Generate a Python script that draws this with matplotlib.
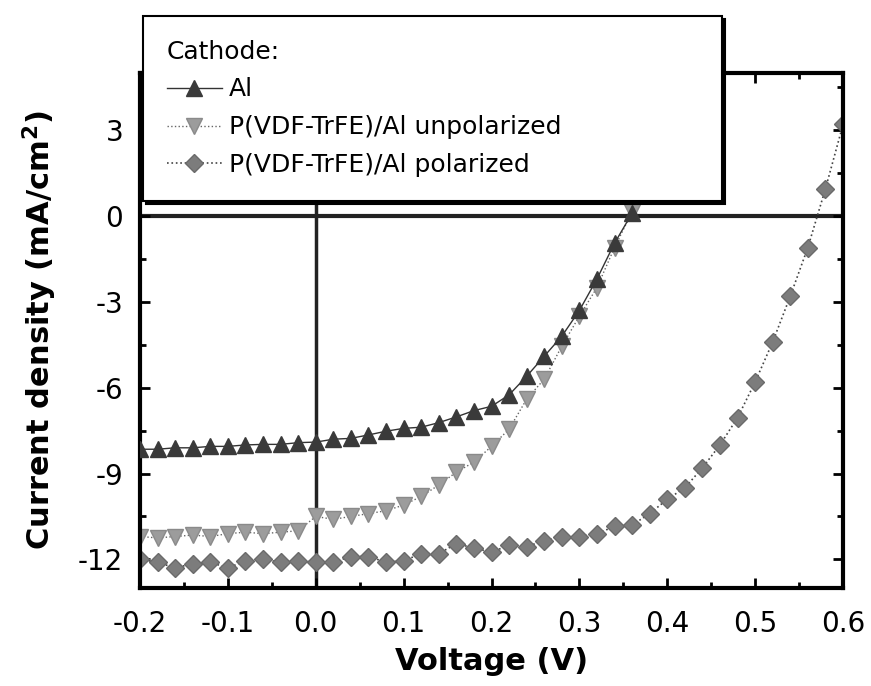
import matplotlib.pyplot as plt
from matplotlib.ticker import MultipleLocator

plt.rcParams["axes.unicode_minus"] = False

# voltage steps (V)
v_al = [-0.20, -0.18, -0.16, -0.14, -0.12, -0.10, -0.08, -0.06, -0.04, -0.02,
        0.00, 0.02, 0.04, 0.06, 0.08, 0.10, 0.12, 0.14, 0.16, 0.18,
        0.20, 0.22, 0.24, 0.26, 0.28, 0.30, 0.32, 0.34, 0.36]
j_al = [-8.15, -8.15, -8.1, -8.1, -8.05, -8.05, -8.0, -7.98, -7.98, -7.92,
        -7.9, -7.8, -7.77, -7.65, -7.52, -7.42, -7.38, -7.22, -7.02, -6.8,
        -6.65, -6.25, -5.6, -4.9, -4.2, -3.3, -2.2, -0.95, 0.1]

v_unpol = v_al
j_unpol = [-11.2, -11.25, -11.2, -11.15, -11.2, -11.1, -11.05, -11.1, -11.05, -11.0,
           -10.5, -10.6, -10.5, -10.4, -10.3, -10.1, -9.8, -9.4, -8.95, -8.6,
           -8.05, -7.45, -6.4, -5.7, -4.55, -3.5, -2.5, -1.1, 0.15]

v_pol = [-0.20, -0.18, -0.16, -0.14, -0.12, -0.10, -0.08, -0.06, -0.04, -0.02,
         0.00, 0.02, 0.04, 0.06, 0.08, 0.10, 0.12, 0.14, 0.16, 0.18,
         0.20, 0.22, 0.24, 0.26, 0.28, 0.30, 0.32, 0.34, 0.36, 0.38,
         0.40, 0.42, 0.44, 0.46, 0.48, 0.50, 0.52, 0.54, 0.56, 0.58, 0.60]
j_pol = [-12.0, -12.1, -12.3, -12.15, -12.1, -12.3, -12.05, -12.0, -12.1, -12.05,
         -12.1, -12.1, -11.9, -11.9, -12.1, -12.05, -11.8, -11.8, -11.45, -11.6,
         -11.75, -11.5, -11.55, -11.35, -11.2, -11.2, -11.1, -10.85, -10.8, -10.4,
         -9.9, -9.5, -8.8, -8.0, -7.05, -5.8, -4.4, -2.8, -1.1, 0.95, 3.2]

labels = ["Al", "P(VDF-TrFE)/Al unpolarized", "P(VDF-TrFE)/Al polarized"]

fig = plt.figure(figsize=(8.71, 6.86), dpi=100)
ax = fig.add_axes([140 / 871, (686 - 588) / 686, 703 / 871, 515 / 686])

ax.axhline(0, color="#222222", lw=3, zorder=1)
ax.axvline(0, color="#222222", lw=2.5, zorder=1)

ax.plot(v_al, j_al, color="#333333", lw=1, marker="^", ms=11,
        mfc="#3a3a3a", mec="#3a3a3a", label=labels[0], zorder=3)
ax.plot(v_unpol, j_unpol, color="#666666", lw=1, ls=":", marker="v", ms=11,
        mfc="#9c9c9c", mec="#8a8a8a", label=labels[1], zorder=2)
ax.plot(v_pol, j_pol, color="#444444", lw=1.2, ls=":", marker="D", ms=9,
        mfc="#7c7c7c", mec="#6a6a6a", label=labels[2], zorder=2)

ax.set_xlim(-0.2, 0.6)
ax.set_ylim(-13, 5)
ax.xaxis.set_minor_locator(MultipleLocator(0.05))
ax.yaxis.set_minor_locator(MultipleLocator(1.5))
ax.set_xticks([-0.2, -0.1, 0.0, 0.1, 0.2, 0.3, 0.4, 0.5, 0.6])
ax.set_xticklabels(["-0.2", "-0.1", "0.0", "0.1", "0.2", "0.3", "0.4", "0.5", "0.6"])
ax.set_yticks([-12, -9, -6, -3, 0, 3])

ax.tick_params(which="both", direction="in", top=True, right=True, width=2,
               labelsize=20)
ax.tick_params(axis="x", pad=16)
ax.tick_params(axis="y", pad=12)
ax.tick_params(which="major", length=7)
ax.tick_params(which="minor", length=4)
for s in ax.spines.values():
    s.set_linewidth(3)

ax.set_xlabel("Voltage (V)", fontsize=22, fontweight="bold", labelpad=6)
ax.set_ylabel("Current density (mA/cm$^\\mathbf{2}$)", fontsize=22,
              fontweight="bold", labelpad=14)

x0, y0 = 143 / 871, 1 - 203 / 686
leg = ax.legend(loc="upper left",
                bbox_to_anchor=(x0, y0, 722 / 871 - x0, 1 - 16 / 686 - y0),
                bbox_transform=fig.transFigure, mode="expand",
                title="Cathode:", alignment="left", fontsize=18,
                title_fontsize=18, frameon=True, fancybox=False,
                edgecolor="black", handlelength=2.2, handletextpad=0.3,
                labelspacing=0.55, borderpad=0.95, borderaxespad=0,
                shadow={"color": "black", "alpha": 1})
leg.get_frame().set_linewidth(1.5)
leg.get_frame().set_facecolor("white")
leg.set_zorder(5)

fig.savefig("out.png", dpi=100)
